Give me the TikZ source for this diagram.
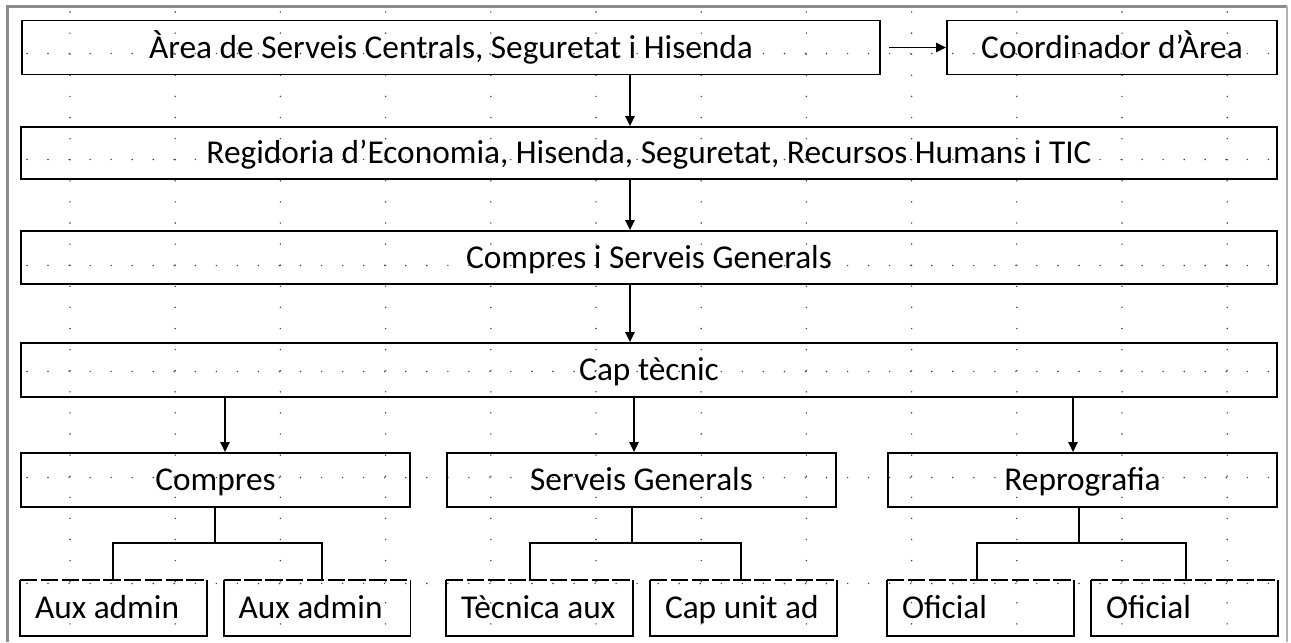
\documentclass[tikz,border=0pt]{standalone}
\usepackage{fontspec}
\setmainfont{Carlito}
\usetikzlibrary{arrows.meta}
\begin{document}
\begin{tikzpicture}[x=0.75pt,y=-0.75pt,
  box/.style={draw, line width=1.4pt, rectangle, inner sep=0pt,
    font=\fontsize{25pt}{30pt}\selectfont, text height=16.1pt, text depth=0pt},
  leaf/.style={box, draw=none, inner xsep=10.5pt, text width=117.75pt, align=flush left, minimum height=40.5pt},
  leafline/.style={line width=1.4pt},
  arr/.style={line width=1.1pt, -{Triangle[length=7.5pt,width=7pt]}},
  tree/.style={line width=1.1pt},
  griddot/.style={fill=black!75}]
\useasboundingbox (0,0) rectangle (1291,642);
\fill[white] (0,0) rectangle (1291,642);
% dotted grid
\foreach \k in {0,...,5}{\foreach \i in {0,...,59}{\fill[griddot] ({27+21.04*\i},{53.5+106*\k}) circle (0.6pt);}}
\foreach \j in {0,...,11}{\foreach \i in {0,...,29}{\fill[griddot] ({70+105.2*\j},{12+21.1*\i}) circle (0.6pt);}}
% outer frame
\draw[black!45, line width=2.2pt] (7.5,642) -- (7.5,6.5) -- (1287,6.5);
\draw[black!30, line width=1.2pt] (1287,6.5) -- (1287,642);
% boxes
\node[box, minimum width=643.5pt, minimum height=40.5pt] (A) at (451,47.5) {Àrea de Serveis Centrals, Seguretat i Hisenda};
\node[box, minimum width=247.5pt, minimum height=40.5pt] (Coord) at (1112,47.5) {Coordinador d’Àrea};
\node[box, minimum width=942pt, minimum height=39pt] (B) at (649,153) {Regidoria d’Economia, Hisenda, Seguretat, Recursos Humans i TIC};
\node[box, minimum width=942pt, minimum height=39.75pt] (C) at (649,257.5) {Compres i Serveis Generals};
\node[box, minimum width=942pt, minimum height=40.5pt] (D) at (649,370) {Cap tècnic};
\node[box, minimum width=291.75pt, minimum height=40.5pt] (E) at (215.5,480) {Compres};
\node[box, minimum width=291.75pt, minimum height=40.5pt] (F) at (641.5,480) {Serveis Generals};
\node[box, minimum width=291.75pt, minimum height=40.5pt] (G) at (1082.5,480) {Reprografia};
\node[leaf] (H1) at (113.5,608) {Aux admin};
\node[leaf] (H2) at (317,608) {Aux admin};
\node[leaf] (H3) at (539.5,608) {Tècnica aux};
\node[leaf] (H4) at (743.5,608) {Cap unit ad};
\node[leaf] (H5) at (980.5,608) {Oficial};
\node[leaf] (H6) at (1184.5,608) {Oficial};
\foreach \n in {H1,H2,H3,H4,H5,H6}{
  \draw[leafline] (\n.north west) -- (\n.south west) -- (\n.south east) -- (\n.north east);
  \draw[leafline, dash pattern=on 13pt off 2.6pt] (\n.north west) -- (\n.north east);
}
% arrows
\coordinate (xa) at (630,0);
\coordinate (xb) at (634,0);
\coordinate (xc) at (225,0);
\coordinate (xd) at (1073,0);
\draw[arr] (A.south -| xa) -- (B.north -| xa);
\draw[arr] (B.south -| xa) -- (C.north -| xa);
\draw[arr] (C.south -| xa) -- (D.north -| xa);
\draw[arr] (D.south -| xc) -- (E.north -| xc);
\draw[arr] (D.south -| xb) -- (F.north -| xb);
\draw[arr] (D.south -| xd) -- (G.north -| xd);
\draw[arr, shorten <=6pt] (A.east) -- (Coord.west);
% trees
\coordinate (ea) at (215,543); \coordinate (el) at (113,543); \coordinate (er) at (322,543);
\coordinate (fa) at (632,543); \coordinate (fl) at (530,543); \coordinate (fr) at (741,543);
\coordinate (ga) at (1079,543); \coordinate (gl) at (977,543); \coordinate (gr) at (1186,543);
\draw[tree] (E.south -| ea) -- (ea);
\draw[tree] (H1.north -| el) -- (el) -- (er) -- (H2.north -| er);
\draw[tree] (F.south -| fa) -- (fa);
\draw[tree] (H3.north -| fl) -- (fl) -- (fr) -- (H4.north -| fr);
\draw[tree] (G.south -| ga) -- (ga);
\draw[tree] (H5.north -| gl) -- (gl) -- (gr) -- (H6.north -| gr);
\end{tikzpicture}
\end{document}
